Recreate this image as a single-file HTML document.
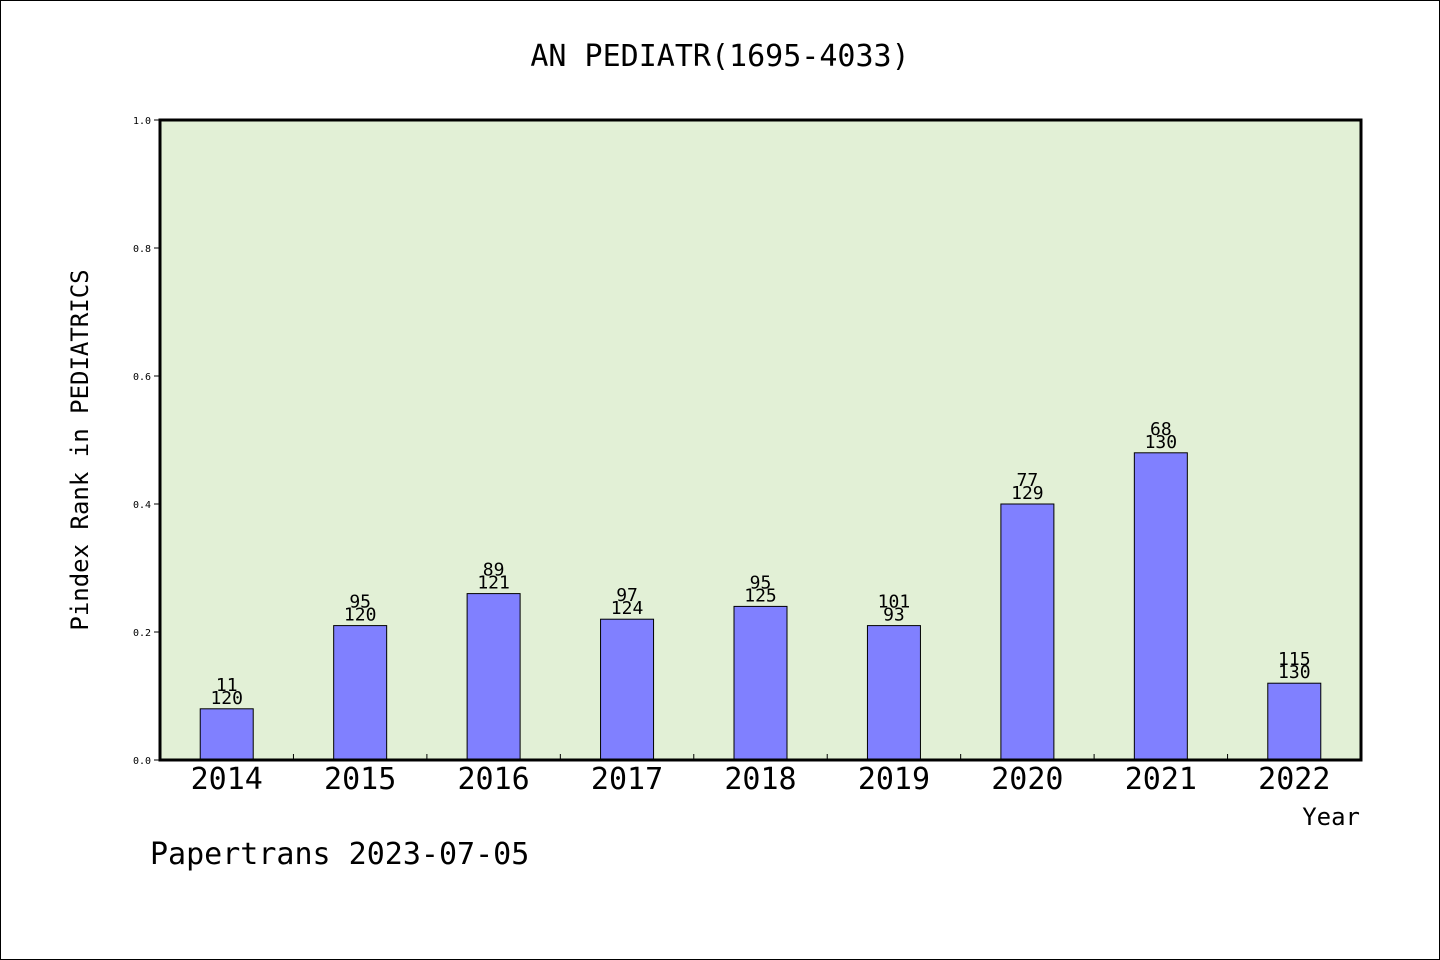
<!DOCTYPE html>
<html><head><meta charset="utf-8"><style>
html,body{margin:0;padding:0;background:#fff}
svg{display:block}
text{font-family:"WenQuanYi Zen Hei","DejaVu Sans Mono",monospace;fill:#000}
</style></head><body>
<svg width="1440" height="960">
<rect x="0.5" y="0.5" width="1439" height="959" fill="#fff" stroke="#000"/>
<text x="720" y="66" font-size="30" text-anchor="middle">AN PEDIATR(1695-4033)</text>
<rect x="160" y="120" width="1201" height="640" fill="#e2f0d6"/>
<g id="ticks"></g>
<g id="bars"></g>
<rect x="160" y="120" width="1201" height="640" fill="none" stroke="#000" stroke-width="3"/>
<text transform="translate(88,450) rotate(-90)" font-size="24" text-anchor="middle">Pindex Rank in PEDIATRICS</text>
<text x="1360" y="825" font-size="24" text-anchor="end">Year</text>
<text x="150" y="864" font-size="30">Papertrans 2023-07-05</text>
</svg>
<script>
const years=["2014","2015","2016","2017","2018","2019","2020","2021","2022"];
const values=[0.08,0.21,0.26,0.22,0.24,0.21,0.40,0.48,0.12];
const topLabels=["11","95","89","97","95","101","77","68","115"];
const bottomLabels=["120","120","121","124","125","93","129","130","130"];
const yTicks=[0,0.2,0.4,0.6,0.8,1.0];
const X0=160,X1=1361,Y0=760,Y1=120;
const bw=(X1-X0)/years.length;
const xc=i=>X0+bw*(i+0.5);
const y=v=>Y0-(Y0-Y1)*v;
const NS="http://www.w3.org/2000/svg";
function mk(t,a,p){const e=document.createElementNS(NS,t);for(const k in a)e.setAttribute(k,a[k]);p.appendChild(e);return e;}
const tg=document.getElementById('ticks'),bg=document.getElementById('bars');
yTicks.forEach(v=>{
 const l=mk('line',{x1:154,x2:160,y1:y(v),y2:y(v),stroke:'#000'},tg);
 
 
 const t=mk('text',{x:151,y:y(v)+4,'font-size':10,'text-anchor':'end'},tg);
 t.textContent=v.toFixed(1);
 
 
});
for(let i=1;i<years.length;i++){
 const l=mk('line',{x1:X0+bw*i,x2:X0+bw*i,y1:Y0,y2:Y0-6,stroke:'#000'},tg);
 
 
}
years.forEach((yr,i)=>{
 const r=mk('rect',{x:xc(i)-26.5,y:y(values[i]),width:53,height:Y0-y(values[i]),fill:'#8080ff',stroke:'#000','stroke-width':1},bg);
 
 
 const a=mk('text',{x:xc(i),y:y(values[i])-18,'font-size':18,'text-anchor':'middle'},bg);
 a.textContent=topLabels[i];
 
 
 const b=mk('text',{x:xc(i),y:y(values[i])-5,'font-size':18,'text-anchor':'middle'},bg);
 b.textContent=bottomLabels[i];
 
 
 const t=mk('text',{x:xc(i),y:789,'font-size':30,'text-anchor':'middle'},bg);
 t.textContent=yr;
 
 
});
</script>
</body></html>
